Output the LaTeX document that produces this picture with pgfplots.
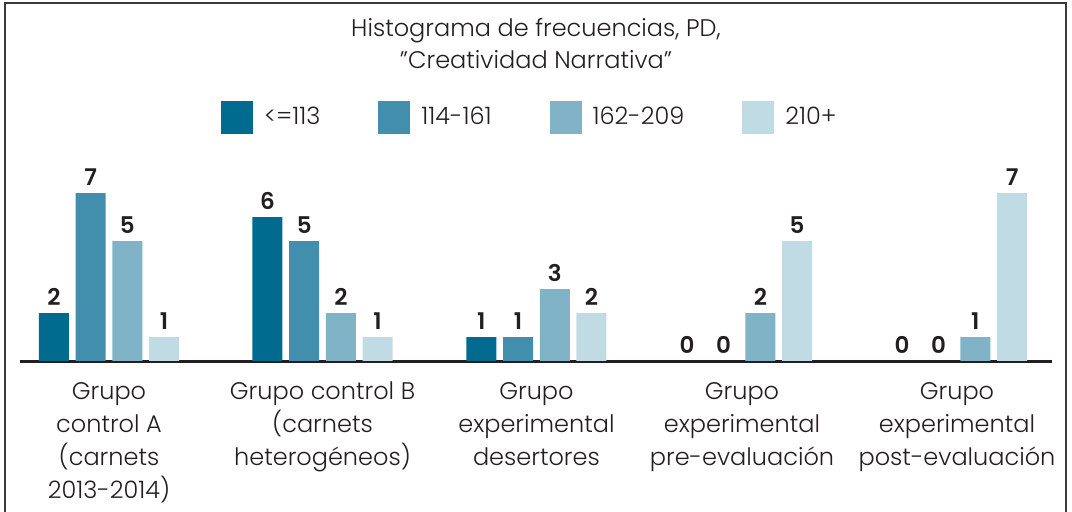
\documentclass[border=0pt]{standalone}
\usepackage{pgfplots}
\pgfplotsset{compat=1.18}
\usepackage{fontspec}
\setmainfont{Poppins}[UprightFont=* Light, BoldFont=* SemiBold]
\definecolor{c1}{HTML}{006B8F}
\definecolor{c2}{HTML}{428FAD}
\definecolor{c3}{HTML}{80B3C6}
\definecolor{c4}{HTML}{C1DBE4}
\definecolor{txt}{HTML}{231F20}
\definecolor{frame}{HTML}{3A3A3A}
\begin{document}
\begin{tikzpicture}
\useasboundingbox (0,0) rectangle (536bp,256bp);
\draw[line width=1bp, color=frame] (2.5bp,-5bp) -- (2.5bp,254.5bp) -- (533bp,254.5bp) -- (533bp,-5bp);
\node[font=\fontsize{12bp}{16bp}\selectfont, align=center, text=txt] at (268bp,234bp) {Histograma de frecuencias, PD,\\"Creatividad Narrativa"};
\begin{axis}[
  at={(10bp,75.5bp)}, anchor=south west, scale only axis,
  width=516bp, height=102bp,
  xmin=-0.417, xmax=4.417, ymin=0, ymax=8.5,
  ybar=3.35bp, bar width=15bp,
  axis x line*=bottom, axis y line=none,
  x axis line style={line width=1.5bp, color=txt, -},
  xtick={0,1,2.002,2.965,3.972}, major tick length=0pt,
  xticklabels={{Grupo\\control A\\(carnets\\2013-2014)},{Grupo control B\\(carnets\\heterogéneos)},{Grupo\\experimental\\desertores},{Grupo\\experimental\\pre-evaluación},{Grupo\\experimental\\post-evaluación}},
  xticklabel style={align=center, font=\fontsize{12bp}{16.5bp}\selectfont, text=txt, yshift=-7bp},
  /pgf/number format/assume math mode=true,
  nodes near coords,
  nodes near coords style={font=\bfseries\fontsize{11.5bp}{12bp}\selectfont, text=txt},
  legend columns=4,
  legend style={draw=none, fill=none, at={(0.495,1.196)}, anchor=center,
    font=\fontsize{12bp}{14bp}\selectfont, text=txt,
    /tikz/every odd column/.append style={column sep=3.5bp},
    /tikz/every even column/.append style={column sep=27bp}},
  legend image code/.code={\fill[#1] (0bp,-8.25bp) rectangle (16bp,8.25bp);},
]
\addplot[fill=c1, draw=none] coordinates {(0,2) (1,6) (2.002,1) (2.965,0) (3.972,0)};
\addplot[fill=c2, draw=none] coordinates {(0,7) (1,5) (2.002,1) (2.965,0) (3.972,0)};
\addplot[fill=c3, draw=none] coordinates {(0,5) (1,2) (2.002,3) (2.965,2) (3.972,1)};
\addplot[fill=c4, draw=none] coordinates {(0,1) (1,1) (2.002,2) (2.965,5) (3.972,7)};
\legend{<=113, 114-161, 162-209, 210+}
\end{axis}
\end{tikzpicture}
\end{document}
